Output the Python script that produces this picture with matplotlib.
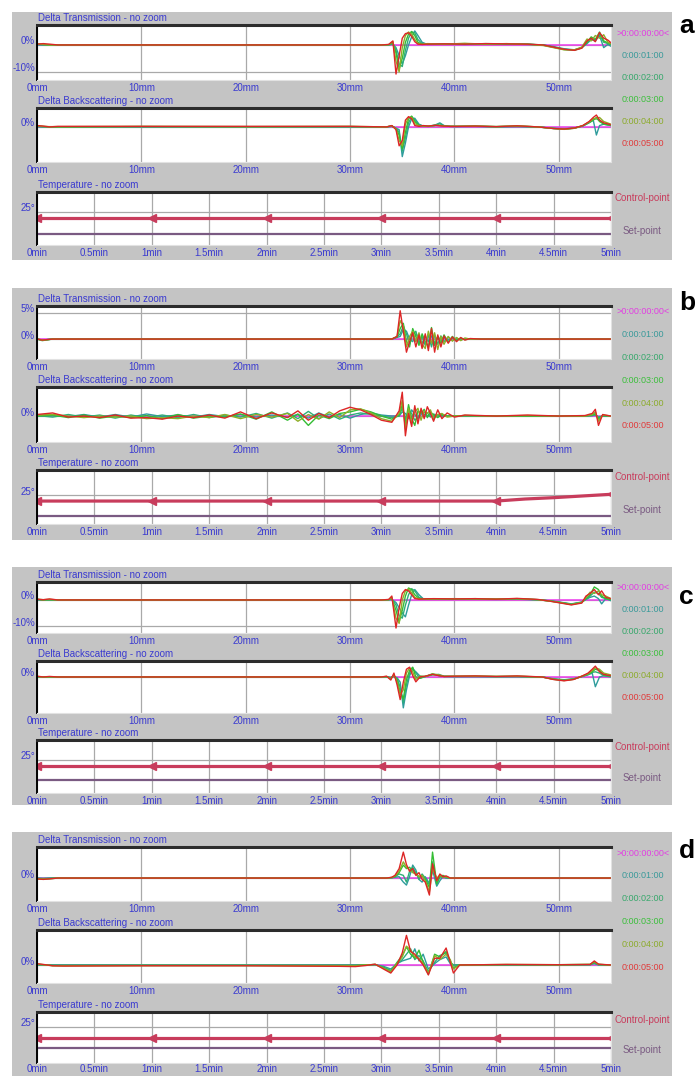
import matplotlib
matplotlib.use('Agg')
import matplotlib.pyplot as plt
from matplotlib.patches import Rectangle
from matplotlib.transforms import blended_transform_factory, offset_copy

plt.rcParams['font.family'] = ['Liberation Sans Narrow', 'Liberation Sans', 'DejaVu Sans']

W, H = 697, 1076

# axis ticks
mm_ticks = [0, 10, 20, 30, 40, 50]
mm_labels = ['0mm', '10mm', '20mm', '30mm', '40mm', '50mm']
min_ticks = [0, 0.5, 1, 1.5, 2, 2.5, 3, 3.5, 4, 4.5, 5]
min_labels = ['0min', '0.5min', '1min', '1.5min', '2min', '2.5min',
              '3min', '3.5min', '4min', '4.5min', '5min']
scan_times = ['>0:00:00:00<', '0:00:01:00', '0:00:02:00',
              '0:00:03:00', '0:00:04:00', '0:00:05:00']

# reference scan (t = 0) sits on 0 %
ref_mm = [0, 55]
ref_delta = [0, 0]

# ---------------- a ----------------
a_dt_mm = [0, 0.6, 1.2, 2.0, 33.0, 33.7, 34.1, 34.4, 34.7, 35.0, 35.3, 35.6, 35.9, 36.2, 36.5, 36.9, 37.4,
           39.0, 41.0, 43.0, 45.0, 47.0, 48.5, 49.5, 50.5, 51.5, 52.2, 52.7, 53.1, 53.5, 53.9, 54.3, 54.7, 55.0]
a_dt_1 = [0, 0, 0, 0, 0, 0, 0.3, -1.0, -4.0, -7.0, -4.0, 0.0, 3.0, 5.2, 3.5, 1.0, 0.2,
          0.3, 0.2, 0.4, 0.3, 0.2, 0, -0.6, -1.4, -1.8, -1.0, 0.5, 2.0, 1.5, 3.5, -1.0, 0.2, -0.5]
a_dt_2 = [0.2, 0, 0, 0, 0, 0, 0.5, -2.0, -7.0, -8.0, -2.0, 2.5, 4.8, 4.5, 2.0, 0.5, 0.3,
          0.4, 0.3, 0.5, 0.4, 0.3, 0, -0.8, -1.6, -1.9, -1.0, 0.8, 2.5, 2.0, 4.0, 1.0, 0.5, 0]
a_dt_3 = [0.3, 0.2, 0, 0, 0, 0.1, 0.8, -3.0, -9.0, -5.0, 1.0, 4.0, 5.0, 3.5, 1.0, 0.3, 0.3,
          0.4, 0.5, 0.3, 0.4, 0.3, -0.1, -0.9, -1.7, -1.9, -1.1, 1.0, 3.0, 2.0, 4.8, 1.5, 0.8, 0.3]
a_dt_4 = [0.4, 0.2, 0, 0, 0, 0.1, 1.2, -6.0, -10.0, -1.0, 3.5, 4.8, 4.0, 2.0, 0.5, 0.2, 0.5,
          0.3, 0.6, 0.3, 0.5, 0.2, -0.2, -1.0, -1.8, -1.8, -0.8, 2.2, 1.5, 3.5, 2.5, 3.8, 1.0, 0.5]
a_dt_5 = [0.3, 0.5, 0.3, 0, 0, 0.2, 1.5, -10.8, -4.0, 2.5, 4.2, 4.5, 3.2, 1.2, 0.3, 0.2, 0.3,
          0.4, 0.3, 0.5, 0.4, 0.3, 0, -0.8, -1.6, -2.0, -1.2, 1.5, 2.5, 1.2, 4.6, 2.5, 1.8, 0.8]

a_db_mm = [0, 0.6, 1.2, 2.0, 10.0, 20.0, 30.0, 33.5, 34.0, 34.4, 34.7, 35.0, 35.3, 35.6, 35.9, 36.2, 36.6,
           37.0, 37.5, 38.2, 38.6, 39.0, 39.6, 40.2, 42.0, 44.0, 46.0, 48.0, 49.5, 50.5, 51.5, 52.3, 52.9,
           53.3, 53.6, 53.9, 54.3, 55.0]
a_db_1 = [0, 0, 0, 0, 0, 0, 0, 0, 0.2, -0.5, -1.0, -11.0, -6.0, 0.0, 3.0, 3.2, 1.0,
          0.3, 0.2, 0.8, 1.5, 0.5, 0.2, 0.1, 0.2, 0, 0.1, 0, -0.5, -0.7, -0.4, 0.3, 1.5,
          2.5, -3.0, 0.5, 1.0, 0.5]
a_db_2 = [0.2, 0.1, 0, 0, 0.1, 0, 0.1, 0, 0.3, -0.5, -2.0, -9.0, -4.0, 1.5, 3.8, 2.5, 0.8,
          0.3, 0.2, 0.6, 1.2, 0.4, 0.2, 0.2, 0.2, 0.1, 0.2, 0, -0.6, -0.8, -0.4, 0.4, 1.8,
          2.8, 3.0, 2.5, 1.2, 0.6]
a_db_3 = [0.3, 0.1, 0, 0, 0.1, 0.1, 0.1, 0, 0.4, -0.6, -3.0, -8.0, -2.0, 3.0, 4.0, 2.0, 0.5,
          0.3, 0.3, 0.5, 0.6, 0.3, 0.2, 0.2, 0.3, 0.1, 0.3, 0, -0.6, -0.9, -0.5, 0.4, 1.6,
          2.5, 3.5, 2.0, 1.0, 0.5]
a_db_4 = [0.4, 0.2, 0.1, 0.1, 0.2, 0.1, 0.2, 0, 0.4, -0.8, -5.0, -7.0, 1.0, 3.5, 3.5, 1.2, 0.4,
          0.4, 0.3, 0.6, 0.5, 0.3, 0.2, 0.2, 0.3, 0.1, 0.4, 0, -0.6, -0.9, -0.5, 0.5, 1.8,
          3.0, 3.2, 3.5, 2.0, 1.0]
a_db_5 = [0.5, 0.3, 0, 0.2, 0.2, 0.2, 0.2, 0, 0.5, -1.0, -7.0, -5.0, 2.5, 3.8, 3.0, 0.5, 0.2,
          0.5, 0.3, 0.6, 0.4, 0.3, 0.2, 0.2, 0.3, 0.1, 0.4, 0, -0.6, -0.8, -0.4, 0.5, 2.0,
          3.5, 4.4, 2.5, 1.5, 0.8]

# ---------------- b ----------------
b_dt_mm = [0, 0.5, 1.5, 34.0, 34.5, 34.8, 35.1, 35.4, 35.7, 36.0, 36.3, 36.6, 36.9, 37.2, 37.5,
           37.8, 38.1, 38.4, 38.7, 39.0, 39.4, 39.8, 40.2, 40.6, 41.0, 41.5, 42.5, 55.0]
b_dt_1 = [0, -0.2, 0, 0, 0.3, 0.5, 1.8, 1.5, 0, -0.5, 1.0, 0.2, -0.8, 0.6, -0.5,
          0.6, -0.8, 0.4, -0.3, 0.3, -0.2, 0.2, -0.1, 0.1, 0, 0, 0, 0]
b_dt_2 = [0, -0.2, 0, 0, 0.4, 1.0, 2.5, 1.0, -1.0, 0.8, 1.5, -0.8, 0.5, -1.2, 0.8,
          -1.5, 0.8, -1.0, 0.6, -0.5, 0.4, -0.3, 0.2, -0.2, 0.1, 0, 0, 0]
b_dt_3 = [0, -0.3, 0, 0, 0.4, 2.0, 3.0, -0.5, -1.5, 2.0, 0.5, -1.2, 1.0, -0.5, -1.5,
          2.2, -1.2, 0.5, -0.8, 0.8, -0.6, 0.5, -0.3, 0.2, -0.1, 0, 0, 0]
b_dt_4 = [0.1, -0.2, 0, 0, 0.5, 3.5, 2.5, -1.5, 0.5, 1.5, -0.5, 1.2, -1.0, -1.8, 1.5,
          -0.8, 1.2, -2.0, 0.5, -1.0, 0.5, -0.4, 0.3, -0.3, 0.2, 0, 0, 0]
b_dt_5 = [0, -0.2, 0, 0, 0.5, 5.4, 1.5, -2.5, -0.5, 1.2, -1.5, 0.8, -1.8, 1.0, -2.2,
          2.0, -2.5, 0.8, -1.5, 0.6, -0.8, 0.4, -0.5, 0.3, -0.2, 0.1, 0, 0]

b_db_mm = [0, 1.5, 3, 4.5, 6, 7.5, 9, 10.5, 12, 13.5, 15, 16.5, 18, 19.5, 21, 22.5, 24,
           25, 26, 27, 28, 29, 30, 31, 32, 33, 34, 34.7, 35.0, 35.3, 35.6, 35.9, 36.2, 36.5,
           36.8, 37.1, 37.4, 37.7, 38.0, 38.4, 38.8, 39.3, 40, 41, 44, 47, 50, 52.5, 53.2,
           53.5, 53.8, 54.2, 55]
b_db_1 = [0, 0.1, -0.1, 0.3, -0.2, 0.3, -0.2, 0.4, -0.1, 0.2, -0.2, 0.3, -0.1, 0.3, -0.2, 0.2, -0.2,
          0.3, -0.4, 0.6, -0.2, 0.3, -0.4, 0.3, 0.6, 0.2, 0, 0, 0.8, 0.5, -0.5, 1.2, 0.3, -0.5,
          0.3, 0.8, 0, 0.3, -0.2, 0.2, 0, 0, 0, 0, 0, 0, 0, 0, 0.1,
          0.2, -0.2, 0, 0]
b_db_2 = [0.1, -0.2, 0.3, -0.2, 0.2, -0.4, 0.2, -0.3, 0.2, -0.3, 0.3, -0.3, 0.2, -0.2, 0.5, -0.4, 0.6,
          -0.5, 0.9, -0.5, 0.4, -0.6, 0.2, 0.6, 0.3, 0, -0.3, 0, 1.5, -0.5, 1.0, 0.5, -0.8, -0.3,
          1.0, 0.2, 0.6, -0.2, 0.4, 0, 0.2, 0, 0, 0, 0, 0, 0, 0, 0.1,
          0.3, -0.3, 0, 0]
b_db_3 = [0, 0.2, -0.3, 0.2, -0.4, 0, -0.3, 0.1, -0.5, 0.3, -0.4, 0, -0.2, 0.4, -0.6, 0.8, -0.8,
          0.4, -1.8, 0.2, -0.5, 0.5, 0.8, 1.3, 0.8, 0, -0.6, 0.2, 2.2, -1.5, 2.2, -0.5, -1.8, 1.0,
          0.5, 1.3, -0.3, 0.8, 0.2, -0.3, 0.3, 0, 0, 0.1, 0, 0, 0, 0, 0.2,
          0.5, -0.6, 0.1, 0]
b_db_4 = [0.2, 0.3, 0, -0.3, 0, -0.2, 0, -0.5, -0.3, -0.5, 0, -0.3, 0.3, -0.5, 0.3, -0.2, 0.5,
          -1.0, 0.3, -0.6, 0.8, -0.3, 1.2, 1.4, 0.6, -0.5, -1.0, 0.5, 3.0, -2.5, 1.5, -1.2, 0.8, 1.5,
          -0.8, 1.0, 0.5, 1.2, -0.5, 0.3, 0.5, -0.2, 0, 0.1, 0, 0.1, 0, 0, 0.3,
          0.8, -1.0, 0.2, 0]
b_db_5 = [0.3, 0.6, -0.2, 0, -0.3, 0.2, -0.4, -0.3, -0.6, 0, -0.3, 0.2, -0.4, 0.8, -0.5, 0.6, -0.3,
          1.0, -0.8, 0.5, -0.3, 1.0, 1.7, 1.2, 0.3, -0.8, -1.2, 1.0, 4.6, -3.8, 0.5, -2.0, 2.0, -1.5,
          1.5, -0.5, 1.8, 0.5, -1.0, 1.2, -0.5, 0.6, -0.2, 0.2, 0, 0.2, 0, 0.1, 0.5,
          1.3, -1.8, 0.3, 0]

# ---------------- c ----------------
c_dt_mm = [0, 0.6, 1.2, 2.0, 33.0, 33.7, 34.0, 34.4, 34.7, 35.0, 35.3, 35.6, 35.9, 36.2, 36.6, 37.0,
           38.0, 40.0, 42.0, 44.0, 46.0, 48.0, 49.2, 50.2, 51.2, 52.2, 52.6, 53.0, 53.4, 53.8, 54.1,
           54.5, 55.0]
c_dt_1 = [0, 0, 0, 0, 0, 0, 0.2, -1.0, -3.0, -5.0, -6.5, -2.0, 2.0, 4.0, 2.0, 0.5,
          0.3, 0.3, 0.3, 0.2, 0.3, 0, -0.3, -0.9, -1.5, -0.8, 0.2, 1.0, 1.5, 0.5, -1.5, 0.5, -0.3]
c_dt_2 = [0.2, 0, 0, 0, 0, 0.1, 0.4, -2.0, -6.0, -7.0, -2.0, 2.0, 4.3, 3.5, 1.0, 0.4,
          0.3, 0.4, 0.4, 0.3, 0.4, 0.1, -0.4, -1.0, -1.6, -0.9, 0.3, 1.5, 3.0, 2.5, 1.0, 0.5, 0]
c_dt_3 = [0.2, 0, 0.1, 0, 0, 0.1, 0.6, -4.0, -8.5, -4.0, 1.5, 4.6, 4.0, 2.0, 0.6, 0.4,
          0.4, 0.4, 0.5, 0.3, 0.5, 0.1, -0.4, -1.0, -1.7, -0.9, 0.5, 2.0, 5.0, 4.0, 1.5, 0.5, 0.2]
c_dt_4 = [0.3, 0.1, 0.2, 0, 0, 0.1, 1.0, -7.0, -9.0, 0, 3.5, 4.2, 2.8, 1.0, 0.4, 0.4,
          0.4, 0.5, 0.4, 0.4, 0.5, 0.1, -0.5, -1.1, -1.8, -1.0, 1.0, 3.0, 2.5, 3.5, 2.0, 1.5, 0.5]
c_dt_5 = [0.3, 0.1, 0.4, 0, 0, 0.2, 1.5, -10.8, -3.0, 2.5, 4.0, 3.5, 2.0, 0.5, 0.3, 0.4,
          0.5, 0.4, 0.5, 0.3, 0.6, 0.2, -0.5, -1.2, -1.9, -1.2, 1.5, 2.5, 4.0, 2.0, 3.5, 1.0, 0.5]

c_db_mm = [0, 0.6, 1.2, 2.0, 33.0, 33.5, 33.9, 34.2, 34.5, 34.8, 35.1, 35.4, 35.7, 36.0, 36.3, 36.7,
           37.2, 37.9, 38.5, 39.0, 40.0, 42.0, 44.0, 46.0, 48.4, 49.5, 50.5, 51.4, 52.2, 52.8, 53.2,
           53.5, 53.9, 54.3, 55.0]
c_db_1 = [0, 0, 0, 0, 0, 0, -0.2, 0.2, -0.3, -2.0, -12.0, -5.0, 0.5, 3.0, 2.0, 0.3,
          0.1, 1.2, 0.5, 0.2, 0.1, 0.1, 0.1, 0.1, 0, -0.7, -1.1, -0.7, 0.1, 0.8, 1.5,
          -3.8, 0, 0.5, 0]
c_db_2 = [0, 0, 0, 0, 0, 0.1, -0.3, 0.3, -0.5, -4.0, -10.0, -3.0, 1.5, 3.5, 1.5, -0.5,
          0.2, 0.8, 1.0, 0.3, 0.2, 0.2, 0.1, 0.2, 0, -0.8, -1.2, -0.8, 0.2, 1.0, 1.8,
          2.0, 1.5, 0.5, 0.2]
c_db_3 = [0.1, 0, 0, 0, 0, 0.1, -0.5, 0.5, -1.0, -6.0, -8.5, -1.0, 2.5, 3.8, 0, -0.5,
          0.2, 1.0, 0.6, 0.2, 0.2, 0.3, 0.2, 0.2, 0, -0.9, -1.3, -0.9, 0.2, 1.0, 2.0,
          3.0, 2.5, 0.8, 0.3]
c_db_4 = [0.2, 0, 0.1, 0, 0, 0.2, -0.8, 1.0, -2.0, -7.0, -5.0, 1.5, 3.5, 2.0, -1.0, 0.3,
          0.2, 1.2, 0.8, 0.2, 0.3, 0.3, 0.2, 0.3, 0, -0.9, -1.4, -0.9, 0.3, 1.2, 2.5,
          3.5, 3.0, 1.5, 0.8]
c_db_5 = [0.3, 0, 0.2, 0, 0, 0.3, -1.2, 1.5, -3.0, -8.8, -2.0, 3.0, 3.8, 0.5, -1.9, 0,
          0.3, 1.0, 0.5, 0.2, 0.3, 0.4, 0.2, 0.4, 0, -1.0, -1.5, -1.0, 0.3, 1.5, 3.0,
          4.2, 2.0, 1.0, 0.5]

# ---------------- d ----------------
d_dt_mm = [0, 0.6, 1.2, 2.0, 33.5, 34.0, 34.3, 34.7, 35.1, 35.4, 35.7, 36.0, 36.3, 36.6, 36.9, 37.2,
           37.6, 37.9, 38.3, 38.6, 38.9, 39.2, 39.6, 55.0]
d_dt_1 = [0, -0.1, 0, 0, 0, 0.1, 0.3, 0.5, -1.5, -2.6, 0.5, 4.8, 3.0, -0.5, -1.5, 0.5,
          -2.0, 3.0, -3.0, -1.0, 0.5, 0, 0, 0]
d_dt_2 = [-0.1, -0.2, -0.1, 0, 0, 0.1, 0.5, 1.5, 1.0, -1.5, 2.5, 4.0, 2.0, -0.5, 1.5, 0,
          -2.5, 6.0, -2.5, 0.5, 0.2, 0.2, 0, 0]
d_dt_3 = [-0.2, -0.3, -0.2, 0, 0, 0.2, 0.5, 2.0, 4.8, 3.5, 4.0, 2.5, 1.5, 0.5, 0.8, -0.5,
          -3.5, 9.6, -2.0, 0.5, 1.0, 0.3, 0, 0]
d_dt_4 = [-0.3, -0.4, -0.3, 0, 0, 0.2, 0.8, 2.5, 6.0, 4.0, 3.0, 2.0, 1.5, 0.5, 1.0, -1.0,
          -5.0, 3.5, 0, 1.0, 0.3, 0.5, 0, 0]
d_dt_5 = [-0.3, -0.5, -0.3, 0, 0, 0.3, 1.0, 3.5, 9.6, 5.0, 2.5, 3.5, 1.0, 2.0, -0.5, -1.5,
          -6.3, 5.3, -1.0, 1.5, 0.5, 0.8, 0, 0]

d_db_mm = [0, 0.6, 1.5, 2.5, 10.0, 20.0, 29.0, 30.5, 31.5, 32.4, 33.2, 33.9, 34.5, 35.0, 35.4, 35.8,
           36.2, 36.6, 37.0, 37.5, 38.1, 38.6, 39.2, 39.6, 39.9, 40.5, 45.0, 50.0, 53.0, 53.4, 53.8, 55.0]
d_db_1 = [0, 0, 0, 0, 0, 0, 0, 0, 0, 0.1, -0.5, -1.5, 0.5, 1.5, 2.0, 2.5,
          6.0, 1.5, 4.0, -1.5, 0.5, 2.0, 3.0, 0.5, 0, 0, 0, 0, 0.1, 0.5, 0, 0]
d_db_2 = [0.1, 0, -0.1, -0.1, -0.1, -0.1, -0.1, -0.1, 0, 0.1, -0.8, -2.0, 0.5, 2.0, 4.0, 6.0,
          2.0, 3.5, 1.5, -2.5, 1.0, 3.5, 4.5, 1.0, 0, 0, 0.1, 0, 0.1, 0.8, 0.1, 0]
d_db_3 = [0.2, 0.1, -0.2, -0.2, -0.2, -0.2, -0.2, -0.2, 0, 0.2, -1.0, -2.5, 1.0, 3.5, 6.7, 4.0,
          2.5, 5.5, 1.0, -3.5, 4.0, 3.0, 5.0, 1.5, -1.0, 0, 0.1, 0.1, 0.2, 1.0, 0.2, 0]
d_db_4 = [0.3, 0.1, -0.3, -0.3, -0.2, -0.2, -0.3, -0.3, 0, 0.2, -1.2, -2.5, 0.5, 3.0, 7.0, 5.5,
          3.0, 2.5, 0.5, -3.0, 3.5, 2.0, 4.0, 2.0, -1.5, 0, 0.2, 0.1, 0.2, 1.2, 0.2, 0]
d_db_5 = [0.5, 0.2, -0.3, -0.4, -0.3, -0.3, -0.5, -0.6, -0.2, 0.3, -1.5, -3.0, 0, 4.5, 11.0, 5.0,
          4.0, 2.0, 0, -3.7, 2.5, 2.5, 6.3, 1.0, -3.0, 0, 0.2, 0.1, 0.2, 1.5, 0.3, 0]

# ---------------- temperature ----------------
temp_min = [0, 1, 2, 3, 4, 5]
b_temp_min = [0, 1, 2, 3, 4, 4.25, 4.5, 4.75, 5]
a_control = [24.1, 24.1, 24.1, 24.1, 24.1, 24.1]
b_control = [24.1, 24.1, 24.1, 24.1, 24.1, 24.4, 24.6, 24.85, 25.1]
c_control = [24.1, 24.1, 24.1, 24.1, 24.1, 24.1]
d_control = [23.4, 23.4, 23.4, 23.4, 23.4, 23.4]
setpoint_min = [0, 5]
a_setpoint = [21.7, 21.7]
b_setpoint = [21.9, 21.9]
c_setpoint = [21.9, 21.9]
d_setpoint = [21.9, 21.9]

# colours
BLUE = '#3a3ad0'
GRAY_BG = '#c4c4c4'
GRID = '#a9a9a9'
REF = '#ee3cee'
SCAN_COLORS = ['#2e9c9c', '#2fae78', '#34bd34', '#8fae28', '#dd2626']
LEGEND_COLORS = ['#e23ee2', '#3a9a9a', '#38a86c', '#3cbf3c', '#8cab2c', '#e03a3a']
CTRL = '#c83c5c'
SETP = '#7a5a82'

fig = plt.figure(figsize=(W / 100, H / 100), dpi=100)
fig.patch.set_facecolor('white')

BOX_L, BOX_R = 37, 611


def box_axes(top, bottom):
    return fig.add_axes([BOX_L / W, 1 - bottom / H, (BOX_R - BOX_L) / W, (bottom - top) / H])


def style_box(ax, title):
    ax.set_facecolor('white')
    ax.spines['top'].set_color('#2c2c2c')
    ax.spines['top'].set_linewidth(2.2)
    ax.spines['left'].set_color('black')
    ax.spines['left'].set_linewidth(1.4)
    for s in ('bottom', 'right'):
        ax.spines[s].set_color('#e2e2e2')
        ax.spines[s].set_linewidth(0.8)
    ax.tick_params(length=0, labelsize=7, labelcolor=BLUE, pad=2)
    ax.grid(True, color=GRID, lw=0.9)
    ax.set_axisbelow(True)
    t = offset_copy(ax.transAxes, fig=fig, x=1, y=1.5, units='points')
    ax.text(0, 1, title, transform=t, ha='left', va='bottom', fontsize=7, color=BLUE)


def y_labels(ax, values, labels):
    ax.set_yticks(values)
    ax.set_yticklabels([])
    tr = offset_copy(blended_transform_factory(ax.transAxes, ax.transData),
                     fig=fig, x=-1.5, y=2.5, units='points')
    for v, lab in zip(values, labels):
        ax.text(0, v, lab, transform=tr, ha='right', va='center', fontsize=7, color=BLUE)


def scan_plot(ax, mm, series, ylim):
    ax.plot(ref_mm, ref_delta, color=REF, lw=1.1)
    for vals, col in zip(series, SCAN_COLORS):
        ax.plot(mm, vals, color=col, lw=1.0)
    ax.set_xlim(0, 55)
    ax.set_ylim(*ylim)
    ax.set_xticks(mm_ticks)
    ax.set_xticklabels(mm_labels)


panels = [
    dict(letter='a', gray=(12, 260), dt=(25, 80), db=(108, 162), temp=(192, 245),
         leg=(33, 22.2), ctrl_y=198, set_y=231, let_y=26, tpad=2,
         dt_mm=a_dt_mm, dt_series=[a_dt_1, a_dt_2, a_dt_3, a_dt_4, a_dt_5], dt_ylim=(-13, 7.4),
         dt_ticks=([0, -10], ['0%', '-10%']),
         db_mm=a_db_mm, db_series=[a_db_1, a_db_2, a_db_3, a_db_4, a_db_5], db_ylim=(-13, 7),
         t_min=temp_min, control=a_control, setpoint=a_setpoint, t_ylim=(20, 28)),
    dict(letter='b', gray=(288, 540), dt=(306, 359), db=(387, 442), temp=(470, 524),
         leg=(312, 22.8), ctrl_y=477, set_y=510, let_y=303, tpad=2,
         dt_mm=b_dt_mm, dt_series=[b_dt_1, b_dt_2, b_dt_3, b_dt_4, b_dt_5], dt_ylim=(-3.8, 6.3),
         dt_ticks=([5, 0], ['5%', '0%']),
         db_mm=b_db_mm, db_series=[b_db_1, b_db_2, b_db_3, b_db_4, b_db_5], db_ylim=(-5.0, 5.6),
         t_min=b_temp_min, control=b_control, setpoint=b_setpoint, t_ylim=(20.7, 28.7)),
    dict(letter='c', gray=(567, 805), dt=(582, 633), db=(661, 713), temp=(740, 793),
         leg=(588, 21.8), ctrl_y=747, set_y=778, let_y=597, tpad=2,
         dt_mm=c_dt_mm, dt_series=[c_dt_1, c_dt_2, c_dt_3, c_dt_4, c_dt_5], dt_ylim=(-12.7, 6.9),
         dt_ticks=([0, -10], ['0%', '-10%']),
         db_mm=c_db_mm, db_series=[c_db_1, c_db_2, c_db_3, c_db_4, c_db_5], db_ylim=(-14, 6.2),
         t_min=temp_min, control=c_control, setpoint=c_setpoint, t_ylim=(20, 28)),
    dict(letter='d', gray=(832, 1080), dt=(847, 901), db=(930, 983), temp=(1012, 1063),
         leg=(853, 22.8), ctrl_y=1020, set_y=1050, let_y=851, tpad=0.5,
         dt_mm=d_dt_mm, dt_series=[d_dt_1, d_dt_2, d_dt_3, d_dt_4, d_dt_5], dt_ylim=(-8.5, 11.5),
         dt_ticks=([0], ['0%']),
         db_mm=d_db_mm, db_series=[d_db_1, d_db_2, d_db_3, d_db_4, d_db_5], db_ylim=(-6.7, 13),
         t_min=temp_min, control=d_control, setpoint=d_setpoint, t_ylim=(19.6, 27.2)),
]

for p in panels:
    g0, g1 = p['gray']
    fig.add_artist(Rectangle((12 / W, 1 - g1 / H), 660 / W, (g1 - g0) / H,
                             transform=fig.transFigure, facecolor=GRAY_BG, edgecolor='none', zorder=0))

    # delta transmission
    ax = box_axes(*p['dt'])
    style_box(ax, 'Delta Transmission - no zoom')
    scan_plot(ax, p['dt_mm'], p['dt_series'], p['dt_ylim'])
    y_labels(ax, *p['dt_ticks'])

    # delta backscattering
    ax = box_axes(*p['db'])
    style_box(ax, 'Delta Backscattering - no zoom')
    scan_plot(ax, p['db_mm'], p['db_series'], p['db_ylim'])
    y_labels(ax, [0], ['0%'])

    # temperature
    ax = box_axes(*p['temp'])
    style_box(ax, 'Temperature - no zoom')
    ax.plot(setpoint_min, p['setpoint'], color=SETP, lw=1.6)
    marks = [i for i, m in enumerate(p['t_min']) if float(m).is_integer()]
    ax.plot(p['t_min'], p['control'], color=CTRL, lw=2.3, marker='<', ms=5.5,
            markevery=marks, clip_on=True)
    ax.set_xlim(0, 5)
    ax.set_ylim(*p['t_ylim'])
    ax.set_xticks(min_ticks)
    ax.set_xticklabels(min_labels)
    ax.tick_params(axis='x', pad=p['tpad'])
    y_labels(ax, [25], ['25°'])

    # scan time legend
    y0, dy = p['leg']
    for i, (lab, col) in enumerate(zip(scan_times, LEGEND_COLORS)):
        fig.text(643 / W, 1 - (y0 + i * dy) / H, lab, ha='center', va='center',
                 fontsize=6.5, color=col)
    fig.text(642 / W, 1 - p['ctrl_y'] / H, 'Control-point', ha='center', va='center',
             fontsize=7, color=CTRL)
    fig.text(642 / W, 1 - p['set_y'] / H, 'Set-point', ha='center', va='center',
             fontsize=7, color=SETP)

    fig.text(679 / W, 1 - p['let_y'] / H, p['letter'], ha='left', va='center',
             fontsize=19, fontweight='bold', family=['Liberation Sans', 'DejaVu Sans'])

fig.savefig('out.png', dpi=100, facecolor='white')
